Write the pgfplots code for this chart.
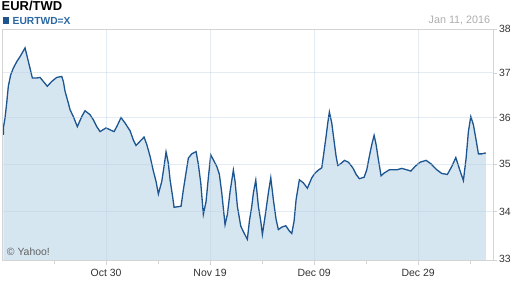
\documentclass[border=0pt]{standalone}
\usepackage{fontspec}
\setmainfont{Liberation Sans}
\usepackage{pgfplots}
\pgfplotsset{compat=1.18}
\usepackage{pgfplotstable}
\definecolor{linec}{HTML}{1D5591}
\definecolor{fillc}{HTML}{D6E6F1}
\definecolor{gridc}{HTML}{B8CDE0}
\definecolor{bordc}{HTML}{D4D4D4}
\definecolor{legc}{HTML}{2A67A3}

% days counted from Oct 30, 2015
\pgfplotstableread{
d v
-19.75 35.63
-19.70 35.81
-19.42 36.00
-19.10 36.33
-18.79 36.70
-18.33 36.96
-17.83 37.11
-17.17 37.26
-16.54 37.37
-15.58 37.57
-15.25 37.41
-14.62 37.11
-14.17 36.89
-13.33 36.89
-12.69 36.90
-12.06 36.81
-11.29 36.70
-10.44 36.81
-9.48 36.90
-8.52 36.92
-8.21 36.81
-7.88 36.59
-7.25 36.33
-6.92 36.18
-6.29 36.03
-5.52 35.81
-4.67 36.03
-4.04 36.16
-3.08 36.07
-2.44 35.96
-1.79 35.81
-1.15 35.70
0.00 35.78
0.77 35.74
1.54 35.70
2.06 35.81
2.88 36.01
3.65 35.89
4.62 35.72
5.25 35.52
5.77 35.40
6.54 35.49
7.31 35.58
7.83 35.42
8.46 35.17
9.10 34.85
9.62 34.63
10.06 34.37
10.71 34.63
11.15 34.95
11.54 35.26
11.98 35.02
12.31 34.67
12.83 34.29
13.08 34.09
14.42 34.11
14.87 34.46
15.33 34.78
15.83 35.13
16.48 35.22
17.31 35.27
17.75 34.99
18.21 34.60
18.71 33.94
19.23 34.21
19.67 34.71
20.13 35.20
20.63 35.09
21.29 34.95
21.79 34.78
22.25 34.39
22.88 33.73
23.33 33.94
23.85 34.42
24.48 34.87
24.81 34.63
25.25 34.11
25.90 33.70
26.54 33.56
27.17 33.43
27.56 33.80
28.02 34.11
28.33 34.39
28.79 34.66
29.29 34.11
29.75 33.80
30.06 33.53
30.58 33.90
31.21 34.39
31.67 34.71
32.17 34.25
32.69 33.84
33.13 33.63
33.79 33.68
34.56 33.71
35.25 33.60
35.71 33.55
36.15 33.80
36.54 34.25
37.17 34.67
37.94 34.60
38.71 34.49
39.56 34.71
40.19 34.81
40.83 34.87
41.48 34.92
41.79 35.17
42.31 35.60
42.63 35.89
42.94 36.13
43.40 35.89
43.85 35.49
44.23 35.17
44.56 34.97
45.13 35.01
45.83 35.08
46.60 35.04
47.44 34.92
48.08 34.78
48.71 34.69
49.62 34.72
50.13 34.88
50.63 35.17
51.10 35.42
51.54 35.62
51.92 35.42
52.37 35.09
52.88 34.75
53.46 34.81
54.48 34.88
55.90 34.88
56.87 34.91
57.83 34.88
58.60 34.85
59.42 34.95
60.38 35.04
61.54 35.08
62.44 35.01
63.60 34.88
64.56 34.80
65.63 34.78
66.48 34.95
67.25 35.14
68.08 34.85
68.71 34.65
69.23 35.13
69.67 35.70
70.13 36.03
70.63 35.85
71.15 35.52
71.60 35.22
72.25 35.22
73.02 35.24
}\data

\begin{document}
\begin{tikzpicture}
\path[use as bounding box] (0,0) rectangle (512bp,288bp);
\begin{axis}[
  at={(2.7bp,27.3bp)}, anchor=south west,
  width=490.3bp, height=231.4bp, scale only axis,
  ymode=log, ymin=33, ymax=38,
  log origin y=infty,
  xmin=-19.87, xmax=74.4,
  ytick={33,34,35,36,37,38},
  yticklabels={\raisebox{3.5bp}{33},34,35,36,37,\raisebox{-3bp}{38}},
  xtick={0,20,40,60},
  xticklabels={Oct 30,Nov 19,Dec 09,Dec 29},
  minor xtick={-10,10,30,50,70},
  ytick pos=right, xtick pos=bottom,
  yticklabel pos=right,
  tick align=outside,
  major tick length=4bp, minor tick length=3bp,
  tick style={draw=bordc, line width=0.8bp},
  axis line style={draw=bordc, line width=0.9bp},
  grid=major,
  major grid style={draw=gridc, opacity=0.4, line width=0.9bp},
  minor grid style={draw=none},
  axis on top,
  ticklabel style={font=\fontsize{10.5}{12}\selectfont, text=black!80},
  xticklabel style={yshift=-1bp},
  yticklabel style={xshift=-1.5bp},
]
\addplot[fill=fillc, draw=none] table[x=d, y=v] {\data} \closedcycle;
\addplot[draw=linec, line width=1.3bp] table[x=d, y=v] {\data};
\end{axis}
\node[anchor=base west, inner sep=0, font=\bfseries\fontsize{13}{14}\selectfont] at (1.5bp,277.6bp) {EUR/TWD};
\fill[linec] (2.7bp,263.7bp) rectangle (9.3bp,271.3bp);
\node[anchor=base west, inner sep=0, text=legc, font=\bfseries\fontsize{10.3}{12}\selectfont] at (12.5bp,263.8bp) {EURTWD=X};
\node[anchor=base east, inner sep=0, text=black!32, font=\fontsize{10.8}{12}\selectfont] at (490.3bp,264bp) {Jan 11, 2016};
\node[anchor=base west, inner sep=0, text=black!62, font=\fontsize{10.5}{12}\selectfont] at (6.7bp,33bp) {© Yahoo!};
\end{tikzpicture}
\end{document}
